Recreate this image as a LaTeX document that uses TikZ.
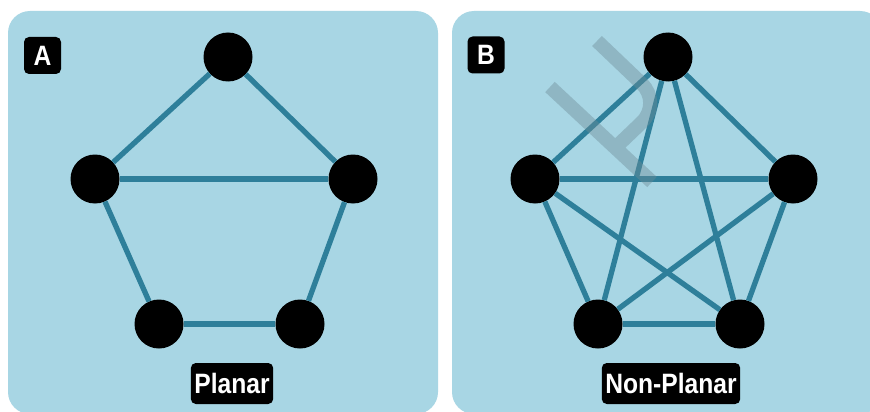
\documentclass[tikz,border=0pt]{standalone}
\usepackage{fontspec}
\newfontfamily\labfont{Liberation Sans}[FakeStretch=0.88]
\definecolor{panelbg}{RGB}{168,214,228}
\definecolor{edgec}{RGB}{46,127,154}
\definecolor{wmc}{RGB}{110,140,150}
\begin{document}
\begin{tikzpicture}[x=1pt,y=-1pt,
  panel/.style={fill=panelbg, rounded corners=22pt, draw=none},
  vert/.style={circle, fill=black, minimum size=49pt, inner sep=0pt},
  edge/.style={draw=edgec, line width=5.3pt},
  tag/.style={fill=black, rounded corners=5pt, text=white,
    font=\labfont\bfseries\fontsize{28}{32}\selectfont,
    minimum width=37pt, minimum height=37pt, inner sep=0pt},
  caption/.style={fill=black, rounded corners=5pt, text=white,
    font=\labfont\bfseries\fontsize{28}{32}\selectfont,
    minimum height=41pt, inner xsep=3.5pt, inner ysep=0pt},
  wm/.style={draw=wmc, draw opacity=0.42, line width=14pt}
]
\useasboundingbox (0,0) rectangle (870,412);
\fill[white] (0,0) rectangle (870,412);
\path[panel] (8,11) rectangle (438,414);
\path[panel] (452,11) rectangle (882,414);

% panel A
\node[vert] (a1) at (228,57) {};
\node[vert] (a2) at (95,179) {};
\node[vert] (a3) at (353,179) {};
\node[vert] (a4) at (159,324) {};
\node[vert] (a5) at (300,324) {};
\draw[edge] (a1) -- (a2);
\draw[edge] (a1) -- (a3);
\draw[edge] (a2) -- (a3);
\draw[edge] (a2) -- (a4);
\draw[edge] (a3) -- (a5);
\draw[edge] (a4) -- (a5);

% panel B
\node[vert] (b1) at (668,57) {};
\node[vert] (b2) at (535,179) {};
\node[vert] (b3) at (793,179) {};
\node[vert] (b4) at (598,324) {};
\node[vert] (b5) at (740,324) {};
\foreach \u/\v in {b1/b2,b1/b3,b1/b4,b1/b5,b2/b3,b2/b4,b2/b5,b3/b4,b3/b5,b4/b5}
  \draw[edge] (\u) -- (\v);

% watermark
\draw[wm] (550,87) -- (652,182)
  (597,41) [rounded corners=28pt] -- (662,103) -- (615,148);

% labels
\node[tag] (ta) at (42.5,55.5) {A};
\node[tag] (tb) at (486,55) {B};
\node[caption] (ca) at (232,383.5) {Planar};
\node[caption] (cb) at (671,383.5) {Non-Planar};
\end{tikzpicture}
\end{document}
